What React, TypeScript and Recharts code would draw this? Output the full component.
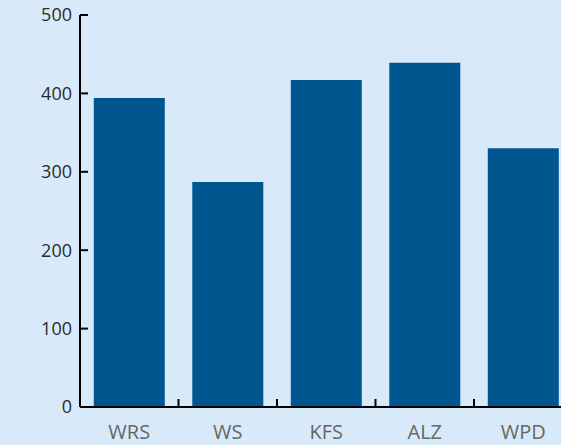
import React from "react";
import { BarChart, Bar, XAxis, YAxis } from "recharts";

const categories = ["WRS", "WS", "KFS", "ALZ", "WPD"];
const values = [394, 287, 417, 439, 330];
const yTicks = [0, 100, 200, 300, 400, 500];

const data = categories.map((name, i) => ({ name, value: values[i] }));

const BG = "#d8eaf9";
const BAR = "#00568f";
const X_TICK_MARGIN = 18;
const BOUNDARY_TICK = 8;

const CatTick = (props: any) => {
  const { x, y, payload, index, visibleTicksCount, width } = props;
  const band = Number(width) / visibleTicksCount;
  const axisY = y - X_TICK_MARGIN;
  const bx = x + band / 2;
  return (
    <g>
      <text
        x={x}
        y={y}
        dy="0.71em"
        textAnchor="middle"
        fill="#666"
        fontSize={20}
        fontFamily="'Open Sans'"
      >
        {payload.value}
      </text>
      {index < visibleTicksCount - 1 && (
        <line
          x1={bx}
          x2={bx}
          y1={axisY}
          y2={axisY - BOUNDARY_TICK}
          stroke="#000"
          strokeWidth={2}
        />
      )}
    </g>
  );
};

export default function App() {
  return (
    <div style={{ width: 561, height: 445, overflow: "hidden", background: BG }}>
      <style>{`body{margin:0;background:${BG};}`}</style>
      <BarChart
        width={580}
        height={445}
        data={data}
        margin={{ top: 15, right: 7.5, bottom: 0, left: 0 }}
        barCategoryGap="14%"
      >
        <XAxis
          dataKey="name"
          height={38}
          tickLine={false}
          tickSize={0}
          tickMargin={X_TICK_MARGIN}
          axisLine={{ stroke: "#000", strokeWidth: 2 }}
          tick={CatTick}
          interval={0}
        />
        <YAxis
          width={80}
          domain={[0, 500]}
          ticks={yTicks}
          tickSize={-8}
          tickMargin={16}
          axisLine={{ stroke: "#000", strokeWidth: 2 }}
          tickLine={{ stroke: "#000", strokeWidth: 2 }}
          tick={{ fill: "#2b2b2b", fontSize: 18, fontFamily: "'Open Sans'" }}
        />
        <Bar dataKey="value" fill={BAR} isAnimationActive={false} />
      </BarChart>
    </div>
  );
}
